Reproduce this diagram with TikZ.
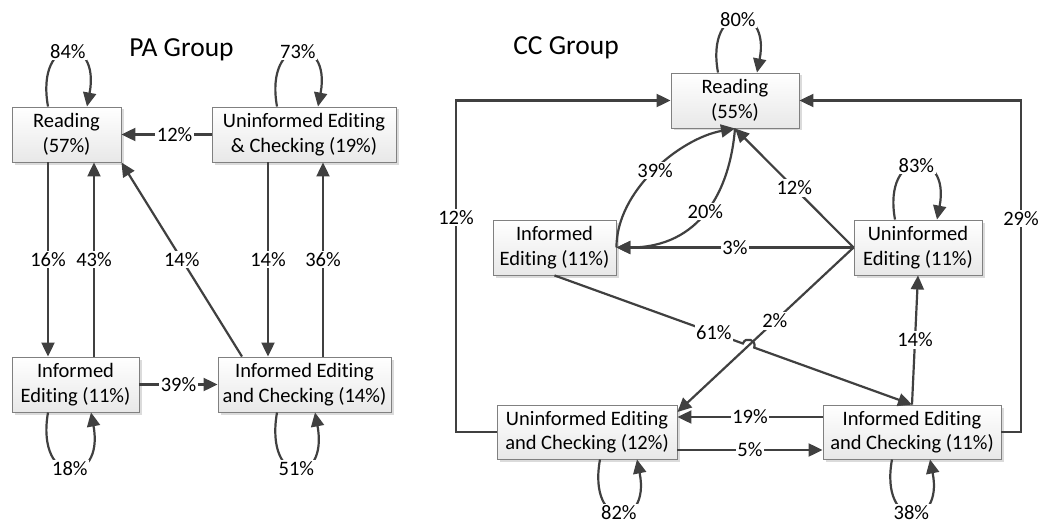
\documentclass[tikz,border=0pt]{standalone}
\usepackage{fontspec}
\setmainfont[Ligatures=NoCommon]{Carlito}
\usetikzlibrary{arrows.meta,shadows}
\newcommand{\diagfont}{\fontsize{20.5}{24.5}\selectfont}
\newcommand{\headfont}{\fontsize{27.5}{30}\selectfont}

\begin{document}
\begin{tikzpicture}[x=1pt,y=-1pt,
  stbox/.style={draw=black!50, line width=0.9pt, top color=white, bottom color=black!9,
    align=center, minimum height=55pt, inner sep=2pt, font=\diagfont,
    drop shadow={shadow xshift=2.5pt, shadow yshift=-2.5pt, opacity=1, fill=black!14}},
  conn/.style={draw=black!75, line width=2.2pt},
  arr/.style={conn, -{Triangle[length=14pt,width=13pt]}},
  lbl/.style={fill=white, inner sep=1.5pt, font=\diagfont},
  head/.style={anchor=base, inner sep=0pt, font=\headfont}]
\useasboundingbox (0,0) rectangle (1041,524);

% ---------------- PA group ----------------
\node[head] (paTitle) at (181.5,57) {PA Group};
\node[stbox, minimum width=109pt] (paR) at (66.5,134.5) {Reading\\(57\%)};
\node[stbox, minimum width=184pt] (paU) at (304,134.5) {Uninformed Editing\\\& Checking (19\%)};
\node[stbox, minimum width=127pt] (paI) at (75.5,384.5) {Informed\\Editing (11\%)};
\node[stbox, minimum width=173pt] (paC) at (304.5,384.5) {Informed Editing\\and Checking (14\%)};

% self transitions
\draw[arr] ([xshift=-18.5pt]paR.north) .. controls +(-13,-73) and +(14,-73) .. node[lbl]{84\%} ([xshift=20.5pt]paR.north);
\draw[arr] ([xshift=-27pt]paU.north) .. controls +(-13,-73) and +(14,-73) .. node[lbl]{73\%} ([xshift=14pt]paU.north);
\draw[arr] ([xshift=-27.5pt]paI.south) .. controls +(-13,75) and +(14,75) .. node[lbl]{18\%} ([xshift=15.5pt]paI.south);
\draw[arr] ([xshift=-27.5pt]paC.south) .. controls +(-13,75) and +(14,75) .. node[lbl]{51\%} ([xshift=10.5pt]paC.south);

% transitions between states
\draw[arr] ([xshift=-18.5pt]paR.south) -- node[lbl]{16\%} ([xshift=-27.5pt]paI.north);
\draw[arr] ([xshift=18.5pt]paI.north) -- node[lbl]{43\%} ([xshift=27.5pt]paR.south);
\draw[arr] ([xshift=-62.5pt]paC.north) -- node[lbl]{14\%} (paR.south east);
\draw[arr] (paU.west) -- node[lbl,pos=0.41]{12\%} (paR.east);
\draw[arr] ([xshift=-36pt]paU.south) -- node[lbl]{14\%} ([xshift=-36.5pt]paC.north);
\draw[arr] ([xshift=18.5pt]paC.north) -- node[lbl]{36\%} ([xshift=19pt]paU.south);
\draw[arr] (paI.east) -- node[lbl]{39\%} (paC.west);

% ---------------- CC group ----------------
\node[head] (ccTitle) at (566,55) {CC Group};
\node[stbox, minimum width=128pt] (ccR) at (735,100.5) {Reading\\(55\%)};
\node[stbox, minimum width=123pt] (ccI) at (554.5,247.5) {Informed\\Editing (11\%)};
\node[stbox, minimum width=128pt] (ccU) at (918,247.5) {Uninformed\\Editing (11\%)};
\node[stbox, minimum width=180pt, minimum height=54pt] (ccUC) at (587,432) {Uninformed Editing\\and Checking (12\%)};
\node[stbox, minimum width=178pt, minimum height=54pt] (ccIC) at (912,432) {Informed Editing\\and Checking (11\%)};

% self transitions
\draw[arr] ([xshift=-17pt]ccR.north) .. controls +(-13,-71) and +(14,-71) .. node[lbl]{80\%} ([xshift=22pt]ccR.north);
\draw[arr] ([xshift=-23pt]ccU.north) .. controls +(-13,-72) and +(14,-72) .. node[lbl]{83\%} ([xshift=19pt]ccU.north);
\draw[arr] ([xshift=13pt]ccUC.south) .. controls +(-13,71) and +(14,71) .. node[lbl]{82\%} ([xshift=50pt]ccUC.south);
\draw[arr] ([xshift=-20pt]ccIC.south) .. controls +(-13,71) and +(14,71) .. node[lbl]{38\%} ([xshift=18pt]ccIC.south);

% outer returns to Reading
\coordinate (ccLft) at (456,100.5);
\coordinate (ccRgt) at (1021,100.5);
\draw[arr] (ccUC.west) -| node[lbl,pos=0.823]{12\%} (ccLft) -- (ccR.west);
\draw[arr] (ccIC.east) -| node[lbl,pos=0.822]{29\%} (ccRgt) -- (ccR.east);

% transitions between states
\draw[arr] (ccI.east) .. controls +(0,-57) and +(-55,10) .. node[lbl]{39\%} (ccR.south);
\draw[arr] (ccR.south) .. controls +(-5,62) and +(84,0) .. node[lbl]{20\%} (ccI.east);
\draw[arr] (ccU.west) -- node[lbl]{12\%} (ccR.south);
\draw[arr] (ccU.west) -- node[lbl]{3\%} (ccI.east);
\draw[arr] (ccU.west) -- node[lbl,pos=0.447]{2\%} ([yshift=20pt]ccUC.east);

% line hop where 61% crosses the 2% line
\coordinate (hopA) at (742.9,343.5);
\coordinate (hopAc) at (745.6,336.0);
\coordinate (hopBc) at (756.9,340.1);
\coordinate (hopB) at (754.2,347.6);
\draw[arr] (ccI.south) -- node[lbl,pos=0.846]{61\%} (hopA) .. controls (hopAc) and (hopBc) .. (hopB) -- (ccIC.north);

\draw[arr] (ccIC.north) -- node[lbl]{14\%} (ccU.south);
\draw[arr] ([yshift=15pt]ccIC.west) -- node[lbl]{19\%} ([yshift=15pt]ccUC.east);
\draw[arr] ([yshift=-18pt]ccUC.east) -- node[lbl]{5\%} ([yshift=-18pt]ccIC.west);
\end{tikzpicture}
\end{document}
